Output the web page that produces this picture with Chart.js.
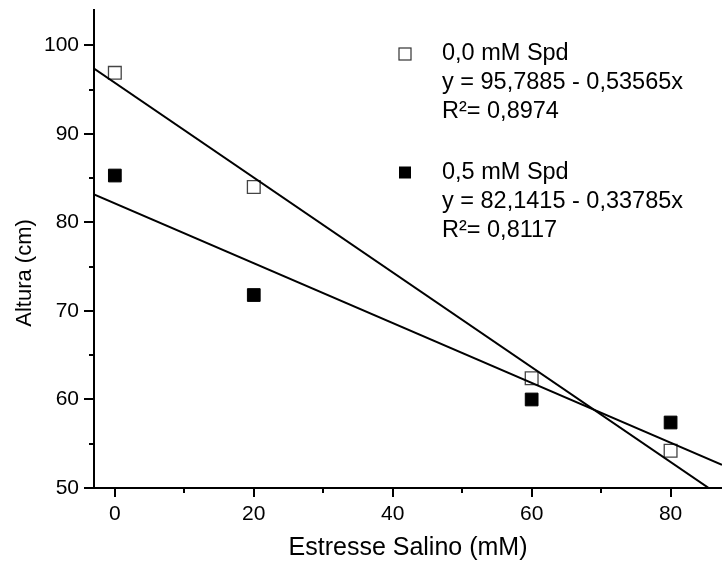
<!DOCTYPE html>
<html>
<head>
<meta charset="utf-8">
<script src="https://cdn.jsdelivr.net/npm/chart.js@4"></script>
<style>
  body { margin: 0; background: #fff; }
  #grafico { display: block; }
</style>
</head>
<body>
<canvas id="grafico" width="722" height="563"></canvas>
<script>
// datos
const estresse = [0, 20, 60, 80];
const altura00 = [96.9, 84.0, 62.4, 54.2];   // 0,0 mM Spd (cuadrado vacio)
const altura05 = [85.3, 71.8, 60.0, 57.4];   // 0,5 mM Spd (cuadrado lleno)

// rectas de regresion (de la leyenda)
const intercepto = [95.7885, 82.1415];
const pendiente = [-0.53565, -0.33785];

const ticksX = [0, 20, 40, 60, 80];
const ticksY = [50, 60, 70, 80, 90, 100];

const textoLeyenda = [
  ['0,0 mM Spd', 'y = 95,7885 - 0,53565x', 'R\u00b2= 0,8974'],
  ['0,5 mM Spd', 'y = 82,1415 - 0,33785x', 'R\u00b2= 0,8117']
];

const xMin = -3, xMax = 87.4, yMin = 50, yMax = 104;
const fuente = "'Liberation Sans', Arial, sans-serif";

function puntos(ys) {
  return estresse.map((x, i) => ({ x: x, y: ys[i] }));
}
function recta(k) {
  return [xMin, xMax].map(x => ({ x: x, y: intercepto[k] + pendiente[k] * x }));
}

// marcas mayores y menores en los ejes
const marcas = {
  id: 'marcas',
  afterDraw(chart) {
    const ctx = chart.ctx;
    const sx = chart.scales.x, sy = chart.scales.y;
    const a = chart.chartArea;
    ctx.save();
    ctx.strokeStyle = '#000';
    ctx.lineWidth = 2;
    for (let v = 0; v <= xMax; v += 10) {
      const px = Math.round(sx.getPixelForValue(v));
      const largo = v % 20 === 0 ? 9 : 5;
      ctx.beginPath();
      ctx.moveTo(px, a.bottom);
      ctx.lineTo(px, a.bottom + largo);
      ctx.stroke();
    }
    for (let v = yMin; v <= yMax; v += 5) {
      const py = Math.round(sy.getPixelForValue(v));
      const largo = v % 10 === 0 ? 10 : 5;
      ctx.beginPath();
      ctx.moveTo(a.left, py);
      ctx.lineTo(a.left - largo, py);
      ctx.stroke();
    }
    ctx.restore();
  }
};

// titulo del eje y y leyenda con las ecuaciones
const textos = {
  id: 'textos',
  afterDraw(chart) {
    const ctx = chart.ctx;
    ctx.save();
    ctx.fillStyle = '#000';
    ctx.font = '22px ' + fuente;
    ctx.textAlign = 'center';
    ctx.textBaseline = 'middle';
    ctx.translate(25, 273);
    ctx.rotate(-Math.PI / 2);
    ctx.fillText('Altura (cm)', 0, 0);
    ctx.restore();

    ctx.save();
    ctx.font = '23.5px ' + fuente;
    ctx.textAlign = 'left';
    ctx.textBaseline = 'alphabetic';
    const inicio = [60, 178.5];
    textoLeyenda.forEach((lineas, k) => {
      const y0 = inicio[k];
      // marcador
      if (k === 0) {
        ctx.fillStyle = '#fff';
        ctx.fillRect(399, y0 - 12, 12, 12);
        ctx.strokeStyle = '#333';
        ctx.lineWidth = 1.2;
        ctx.strokeRect(399, y0 - 12, 12, 12);
      } else {
        ctx.fillStyle = '#000';
        ctx.fillRect(399, y0 - 12, 12, 12);
      }
      ctx.fillStyle = '#000';
      lineas.forEach((t, j) => ctx.fillText(t, 442, y0 + j * 29));
    });
    ctx.restore();
  }
};

new Chart(document.getElementById('grafico'), {
  type: 'scatter',
  data: {
    datasets: [
      { label: 'recta 0,0', data: recta(0), showLine: true, borderColor: '#000', borderWidth: 2, pointRadius: 0 },
      { label: 'recta 0,5', data: recta(1), showLine: true, borderColor: '#000', borderWidth: 2, pointRadius: 0 },
      { label: '0,0 mM Spd', data: puntos(altura00), pointStyle: 'rect', pointRadius: 9,
        backgroundColor: '#fff', borderColor: '#444', borderWidth: 1.3 },
      { label: '0,5 mM Spd', data: puntos(altura05), pointStyle: 'rect', pointRadius: 9,
        backgroundColor: '#000', borderColor: '#000', borderWidth: 1 }
    ]
  },
  options: {
    responsive: false,
    animation: false,
    layout: { autoPadding: false, padding: { top: 10, right: 0, left: 0, bottom: 0 } },
    plugins: { legend: { display: false }, tooltip: { enabled: false } },
    scales: {
      x: {
        type: 'linear',
        min: xMin,
        max: xMax,
        afterBuildTicks: s => { s.ticks = ticksX.map(v => ({ value: v })); },
        afterFit: s => { s.height = 75; s.paddingLeft = 0; s.paddingRight = 0; },
        grid: { display: false, drawTicks: false },
        border: { display: true, color: '#000', width: 2 },
        ticks: { color: '#000', font: { family: fuente, size: 21 }, padding: 14, maxRotation: 0 },
        title: { display: true, text: 'Estresse Salino (mM)', color: '#000',
                 font: { family: fuente, size: 25 }, padding: { top: 3, bottom: 0 } }
      },
      y: {
        type: 'linear',
        min: yMin,
        max: yMax,
        afterBuildTicks: s => { s.ticks = ticksY.map(v => ({ value: v })); },
        afterFit: s => { s.width = 94; s.paddingTop = 0; s.paddingBottom = 0; },
        grid: { display: false, drawTicks: false },
        border: { display: true, color: '#000', width: 2 },
        ticks: { color: '#000', font: { family: fuente, size: 21 }, padding: 15 }
      }
    }
  },
  plugins: [marcas, textos]
});
</script>
</body>
</html>
